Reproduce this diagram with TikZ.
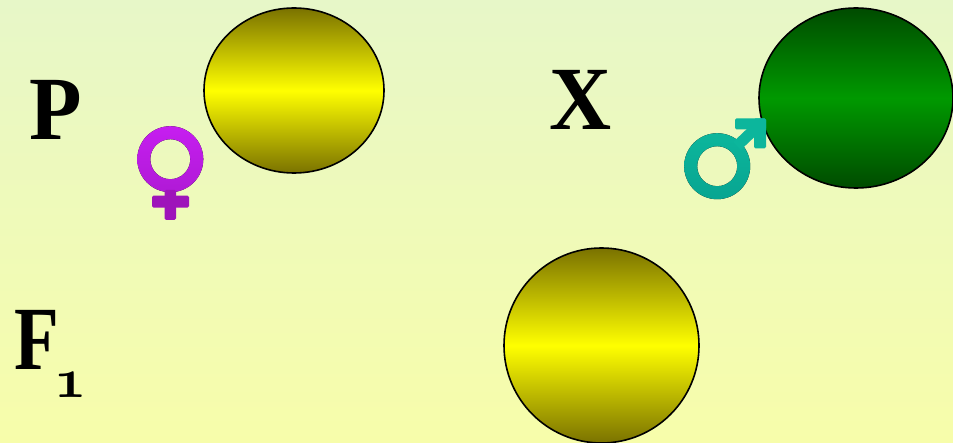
\documentclass[tikz,border=0pt]{standalone}
\usepackage{fontspec}
\setmainfont{Liberation Serif}
\usetikzlibrary{shapes.geometric}
\font\oldnum=cmmib10 at 56pt
\definecolor{bgtop}{RGB}{231,247,200}
\definecolor{bgbot}{RGB}{247,253,170}
\definecolor{yelldark}{RGB}{122,114,0}
\definecolor{greendark}{RGB}{0,75,0}
\definecolor{greenmid}{RGB}{0,153,0}
\definecolor{femtop}{RGB}{198,30,240}
\definecolor{femmid}{RGB}{176,26,214}
\definecolor{fembot}{RGB}{158,20,186}
\definecolor{maletop}{RGB}{12,182,156}
\definecolor{malebot}{RGB}{8,165,145}
\begin{document}
\begin{tikzpicture}[x=1pt,y=-1pt,
    every node/.style={inner sep=0pt,font=\bfseries\fontsize{86}{86}\selectfont},
    yellowseed/.style={ellipse,draw=black,line width=1.6pt,top color=yelldark,
      bottom color=yelldark,middle color=yellow},
    greenseed/.style={ellipse,draw=black,line width=1.6pt,top color=greendark,
      bottom color=greendark,middle color=greenmid}]
  \useasboundingbox (0,0) rectangle (953,443);
  \shade[top color=bgtop,bottom color=bgbot] (0,0) rectangle (953,443);
  % seeds
  \node[yellowseed,minimum width=180pt,minimum height=165pt] (mother) at (294,90.5) {};
  \node[greenseed,minimum width=194pt,minimum height=180pt] (father) at (856,98) {};
  \node[yellowseed,minimum width=195pt,minimum height=195pt] (hybrid) at (601.5,345.5) {};
  % labels
  \node[anchor=base,yscale=1.05] (parent) at (55.5,140) {P};
  \node[anchor=base,yscale=1.05] (cross) at (581,130) {X};
  \node[anchor=base,xscale=.85,yscale=1.05] (filial) at (37,370) {F};
  \node[anchor=base,font=\oldnum] (one) at (70.5,398) {1};
  % female sign
  \fill[top color=femtop,bottom color=femmid,even odd rule]
    (170.3,159.2) circle[radius=33] (170.3,159.2) circle[radius=20];
  \fill[fembot,rounded corners=1.5pt] (164.7,190) rectangle (176,220);
  \fill[fembot,rounded corners=1.5pt] (152,195.7) rectangle (189,207.7);
  % male sign
  \fill[bottom color=malebot,top color=maletop,even odd rule]
    (717.2,166.2) circle[radius=33] (717.2,166.2) circle[radius=20];
  \draw[maletop,line width=11pt] (737,146) -- (760,124);
  \fill[maletop,rounded corners=1.5pt] (735,118.3) rectangle (766,129.5);
  \fill[maletop,rounded corners=1.5pt] (754,118.3) rectangle (766,148.3);
\end{tikzpicture}
\end{document}
